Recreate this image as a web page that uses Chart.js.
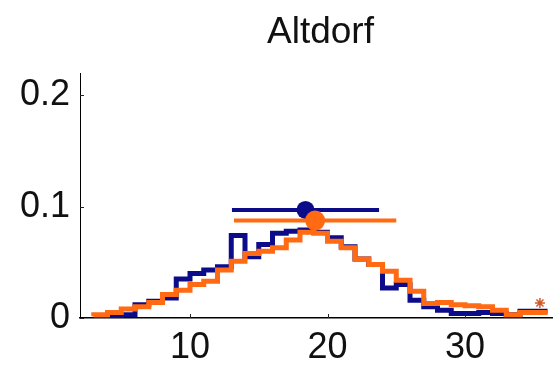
<!DOCTYPE html>
<html>
<head>
<meta charset="utf-8">
<title>Altdorf</title>
<script src="https://cdn.jsdelivr.net/npm/chart.js@4.4.1/dist/chart.umd.min.js"></script>
<style>
    html, body { margin: 0; padding: 0; background: #fff; }
    #wrap { width: 553px; height: 368px; }
</style>
</head>
<body>
<div id="wrap"><canvas id="histChart" width="553" height="368"></canvas></div>
<script>
// Histogram data: bins of width 1 starting at x = 3
const titleText = 'Altdorf';
const binStart = 3;
const blueHist = [0.001, 0.001, 0.002, 0.003, 0.012, 0.015, 0.018, 0.035, 0.040, 0.043,
    0.046, 0.074, 0.055, 0.066, 0.076, 0.078, 0.079, 0.077, 0.072, 0.064,
    0.053, 0.048, 0.027, 0.030, 0.016, 0.010, 0.007, 0.004, 0.004, 0.005,
    0.004, 0.003, 0.006];
const orangeHist = [0.0015, 0.003, 0.005, 0.008, 0.010, 0.014, 0.021, 0.025, 0.030, 0.033,
    0.043, 0.051, 0.058, 0.060, 0.063, 0.070, 0.077, 0.076, 0.069, 0.063,
    0.053, 0.048, 0.042, 0.034, 0.024, 0.013, 0.014, 0.012, 0.011, 0.010,
    0.007, 0.003, 0.005];

// mean marker and spread bar for each series: [blue, orange]
const meanX = [18.4, 19.1];
const meanY = [0.097, 0.0875];
const barLow = [13.05, 13.2];
const barHigh = [23.75, 25.0];

const starPoint = [35.45, 0.0135];

const xTicks = [10, 20, 30];
const yTicks = [0, 0.1, 0.2];

const BLUE = '#0c0c8a';
const ORANGE = '#ff6a12';
const FONT = 'Liberation Sans, Arial, Helvetica, sans-serif';

// turn bin heights into points for a stepped line
function toSteps(values) {
    const pts = values.map((v, i) => ({ x: binStart + i, y: v }));
    pts.push({ x: binStart + values.length, y: values[values.length - 1] });
    return pts;
}

// title centred over the axes, plus MATLAB-style inward tick marks
const axesExtras = {
    id: 'axesExtras',
    afterDraw(chart) {
        const c = chart.ctx;
        const area = chart.chartArea;
        const xs = chart.scales.x;
        const ys = chart.scales.y;
        c.save();
        c.strokeStyle = '#222';
        c.lineWidth = 1;
        xTicks.forEach(v => {
            const px = Math.round(xs.getPixelForValue(v)) + 0.5;
            c.beginPath();
            c.moveTo(px, area.bottom);
            c.lineTo(px, area.bottom - 4);
            c.stroke();
        });
        yTicks.forEach(v => {
            const py = Math.round(ys.getPixelForValue(v)) + 0.5;
            c.beginPath();
            c.moveTo(area.left, py);
            c.lineTo(area.left + 4, py);
            c.stroke();
        });
        c.fillStyle = '#111';
        c.font = '37px ' + FONT;
        c.textAlign = 'center';
        c.textBaseline = 'middle';
        c.fillText(titleText, (area.left + area.right) / 2 + 4, 33);
        c.restore();
    }
};

const ctx = document.getElementById('histChart');

new Chart(ctx, {
    type: 'line',
    data: {
        datasets: [
            {
                // orange mean dot (on top)
                data: [{ x: meanX[1], y: meanY[1] }],
                showLine: false,
                pointRadius: 10,
                pointBackgroundColor: ORANGE,
                pointBorderWidth: 0,
                order: 0
            },
            {
                data: [{ x: barLow[1], y: meanY[1] }, { x: barHigh[1], y: meanY[1] }],
                borderColor: ORANGE,
                borderWidth: 4,
                pointRadius: 0,
                order: 1
            },
            {
                data: [{ x: meanX[0], y: meanY[0] }],
                showLine: false,
                pointRadius: 9,
                pointBackgroundColor: BLUE,
                pointBorderWidth: 0,
                order: 2
            },
            {
                data: [{ x: barLow[0], y: meanY[0] }, { x: barHigh[0], y: meanY[0] }],
                borderColor: BLUE,
                borderWidth: 4,
                pointRadius: 0,
                order: 3
            },
            {
                data: [{ x: starPoint[0], y: starPoint[1] }],
                showLine: false,
                pointStyle: 'star',
                pointRadius: 5,
                pointBorderColor: '#d2582a',
                pointBorderWidth: 1.5,
                order: 4
            },
            {
                data: toSteps(orangeHist),
                stepped: 'after',
                borderColor: ORANGE,
                borderWidth: 5,
                pointRadius: 0,
                order: 5
            },
            {
                data: toSteps(blueHist),
                stepped: 'after',
                borderColor: BLUE,
                borderWidth: 5,
                pointRadius: 0,
                order: 6
            }
        ]
    },
    options: {
        responsive: false,
        animation: false,
        layout: { autoPadding: false, padding: { top: 73, right: 0, left: 0, bottom: 0 } },
        plugins: {
            legend: { display: false },
            tooltip: { enabled: false }
        },
        scales: {
            x: {
                type: 'linear',
                min: 2,
                max: 36.4,
                afterBuildTicks: s => { s.ticks = xTicks.map(v => ({ value: v })); },
                afterFit: s => { s.height = 50; },
                grid: { display: false, drawTicks: false },
                border: { display: true, color: '#000', width: 1.5 },
                ticks: {
                    color: '#111',
                    font: { size: 36, family: FONT },
                    padding: 8,
                    maxRotation: 0,
                    autoSkip: false
                }
            },
            y: {
                min: 0,
                max: 0.22,
                afterBuildTicks: s => { s.ticks = yTicks.map(v => ({ value: v })); },
                afterFit: s => { s.width = 80; },
                grid: { display: false, drawTicks: false },
                border: { display: true, color: '#000', width: 1 },
                ticks: {
                    color: '#111',
                    font: { size: 36, family: FONT },
                    padding: 10,
                    callback: v => String(v)
                }
            }
        }
    },
    plugins: [axesExtras]
});
</script>
</body>
</html>
